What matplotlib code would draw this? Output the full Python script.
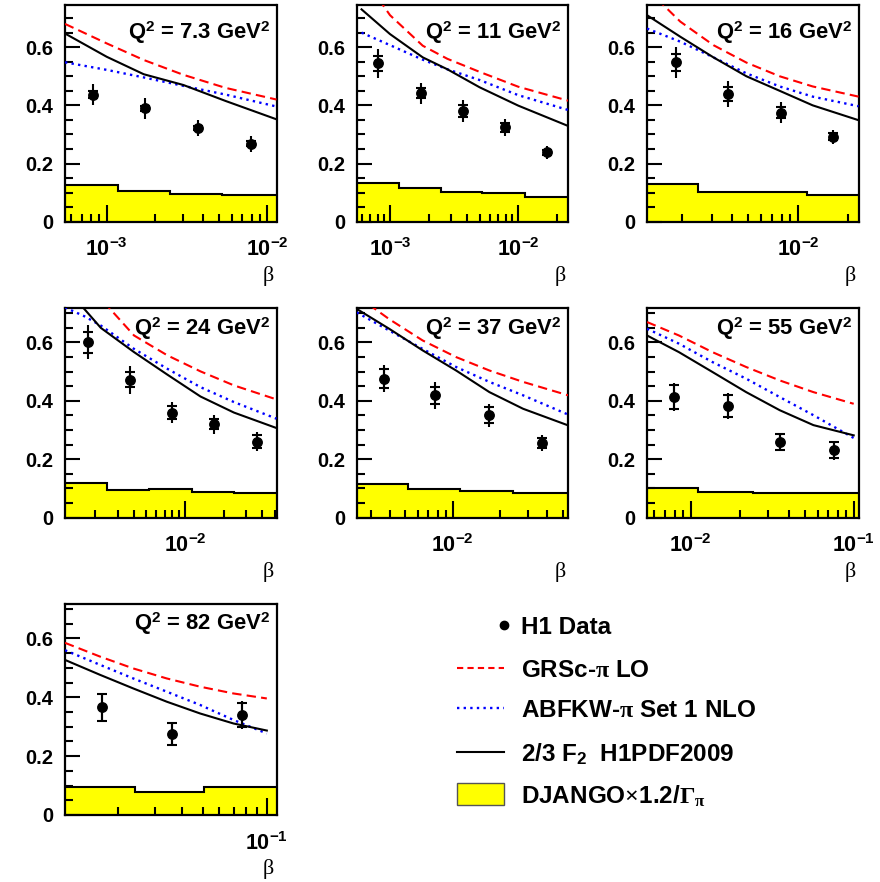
import matplotlib
matplotlib.use('Agg')
import matplotlib.pyplot as plt
import numpy as np
from matplotlib.ticker import LogLocator, MultipleLocator, FuncFormatter, NullFormatter
from matplotlib.patches import Rectangle

plt.rcParams['font.family'] = ['Liberation Sans', 'DejaVu Sans']
plt.rcParams['font.weight'] = 'bold'
plt.rcParams['mathtext.fontset'] = 'custom'
plt.rcParams['mathtext.rm'] = 'Liberation Serif'
plt.rcParams['mathtext.it'] = 'Liberation Serif:italic'
plt.rcParams['mathtext.bf'] = 'Liberation Sans:bold'

# panel labels and axis ranges
q2_labels = ['7.3', '11', '16', '24', '37', '55', '82']
beta_lo = [5.5e-4, 5.5e-4, 1.22e-3, 1.17e-3, 2.45e-3, 5.4e-3, 1.135e-2]
beta_hi = [1.14e-2, 2.45e-2, 2.33e-2, 5.14e-2, 5.42e-2, 0.107, 0.111]
y_top = [0.745, 0.745, 0.745, 0.717, 0.717, 0.717, 0.717]

# H1 data
data_beta = [[8.2e-4, 1.73e-3, 3.7e-3, 7.9e-3],
             [8.1e-4, 1.75e-3, 3.68e-3, 7.87e-3, 1.68e-2],
             [1.82e-3, 3.79e-3, 7.87e-3, 1.64e-2],
             [1.77e-3, 3.75e-3, 7.98e-3, 1.68e-2, 3.6e-2],
             [3.63e-3, 7.75e-3, 1.7e-2, 3.71e-2],
             [7.96e-3, 1.69e-2, 3.55e-2, 7.59e-2],
             [1.7e-2, 3.59e-2, 7.69e-2]]
data_val = [[0.436, 0.39, 0.322, 0.268],
            [0.544, 0.441, 0.381, 0.324, 0.238],
            [0.548, 0.439, 0.375, 0.292],
            [0.601, 0.473, 0.36, 0.32, 0.26],
            [0.476, 0.419, 0.351, 0.256],
            [0.413, 0.382, 0.26, 0.231],
            [0.366, 0.275, 0.34]]
data_tot = [[0.036, 0.036, 0.029, 0.027],
            [0.05, 0.037, 0.037, 0.028, 0.021],
            [0.053, 0.043, 0.036, 0.024],
            [0.059, 0.048, 0.037, 0.033, 0.033],
            [0.047, 0.047, 0.04, 0.027],
            [0.048, 0.045, 0.031, 0.032],
            [0.05, 0.038, 0.047]]
data_stat = [[0.012, 0.008, 0.008, 0.008],
             [0.025, 0.017, 0.02, 0.015, 0.008],
             [0.03, 0.025, 0.02, 0.012],
             [0.036, 0.027, 0.021, 0.017, 0.023],
             [0.033, 0.028, 0.027, 0.017],
             [0.04, 0.038, 0.027, 0.028],
             [0.046, 0.036, 0.042]]

# model curves
curve_beta = [[5.5e-4, 1.0e-3, 1.7e-3, 3.0e-3, 5.5e-3, 1.14e-2],
              [6.0e-4, 1.0e-3, 1.8e-3, 2.8e-3, 5.0e-3, 1.0e-2, 2.45e-2],
              [1.22e-3, 1.94e-3, 3.08e-3, 4.88e-3, 7.76e-3, 1.23e-2, 2.33e-2],
              [1.17e-3, 1.65e-3, 2.22e-3, 4.02e-3, 7.29e-3, 1.32e-2, 2.4e-2, 5.14e-2],
              [2.45e-3, 3.94e-3, 6.43e-3, 1.05e-2, 1.71e-2, 2.8e-2, 5.42e-2],
              [5.4e-3, 8.47e-3, 1.36e-2, 2.19e-2, 3.52e-2, 5.66e-2, 0.1],
              [1.135e-2, 1.66e-2, 2.37e-2, 3.4e-2, 4.87e-2, 6.98e-2, 0.1]]
grs_lo = [[0.68, 0.613, 0.556, 0.505, 0.46, 0.42],
          [0.85, 0.71, 0.605, 0.56, 0.515, 0.464, 0.416],
          [0.80, 0.688, 0.607, 0.547, 0.50, 0.465, 0.43],
          [0.95, 0.85, 0.75, 0.624, 0.556, 0.501, 0.453, 0.405],
          [0.76, 0.68, 0.607, 0.55, 0.504, 0.465, 0.419],
          [0.67, 0.624, 0.567, 0.516, 0.47, 0.43, 0.39],
          [0.585, 0.538, 0.498, 0.464, 0.436, 0.413, 0.396]]
abfkw_nlo = [[0.548, 0.522, 0.496, 0.467, 0.437, 0.396],
             [0.65, 0.607, 0.557, 0.524, 0.487, 0.435, 0.384],
             [0.664, 0.619, 0.565, 0.51, 0.465, 0.43, 0.397],
             [0.72, 0.69, 0.658, 0.578, 0.51, 0.447, 0.396, 0.339],
             [0.703, 0.641, 0.578, 0.516, 0.465, 0.419, 0.353],
             [0.647, 0.596, 0.533, 0.476, 0.413, 0.351, 0.273],
             [0.56, 0.51, 0.464, 0.419, 0.374, 0.323, 0.277]]
f2_h1pdf = [[0.647, 0.567, 0.507, 0.47, 0.415, 0.352],
            [0.73, 0.645, 0.565, 0.524, 0.462, 0.399, 0.329],
            [0.71, 0.636, 0.565, 0.50, 0.45, 0.40, 0.349],
            [0.78, 0.715, 0.65, 0.567, 0.49, 0.415, 0.36, 0.307],
            [0.715, 0.647, 0.573, 0.504, 0.43, 0.373, 0.316],
            [0.624, 0.567, 0.499, 0.43, 0.368, 0.317, 0.282],
            [0.527, 0.476, 0.43, 0.385, 0.345, 0.311, 0.287]]

# DJANGO histogram
django_edges = [[5.5e-4, 1.17e-3, 2.49e-3, 5.24e-3, 1.14e-2],
                [5.5e-4, 1.17e-3, 2.49e-3, 5.24e-3, 1.13e-2, 2.45e-2],
                [1.22e-3, 2.49e-3, 5.24e-3, 1.13e-2, 2.33e-2],
                [1.17e-3, 2.49e-3, 5.3e-3, 1.13e-2, 2.4e-2, 5.14e-2],
                [2.45e-3, 5.2e-3, 1.11e-2, 2.4e-2, 5.42e-2],
                [5.4e-3, 1.11e-2, 2.4e-2, 0.107],
                [1.135e-2, 2.41e-2, 5.08e-2, 0.111]]
django_vals = [[0.126, 0.107, 0.095, 0.092],
               [0.132, 0.117, 0.101, 0.097, 0.086],
               [0.129, 0.103, 0.101, 0.092],
               [0.12, 0.095, 0.097, 0.089, 0.084],
               [0.114, 0.098, 0.092, 0.083],
               [0.1, 0.089, 0.083],
               [0.094, 0.077, 0.094]]

YELLOW = '#ffff00'
W, H = 880, 882
fig = plt.figure(figsize=(W / 100, H / 100), dpi=100)

# legend overlay in pixel coordinates
lax = fig.add_axes([0, 0, 1, 1])
lax.set_xlim(0, W)
lax.set_ylim(H, 0)
lax.axis('off')
lax.patch.set_alpha(0)

col_left = [65, 356.7, 647]
row_bottom = [221.7, 517.7, 815]
row_height = [216.7, 209.4, 211]
ax_w = 211.5

for i in range(7):
    r, c = divmod(i, 3)
    ax = fig.add_axes([col_left[c] / W, 1 - row_bottom[r] / H, ax_w / W, row_height[r] / H])

    ax.stairs(django_vals[i], django_edges[i], fill=True, color=YELLOW, lw=0, zorder=1)
    ax.stairs(django_vals[i], django_edges[i], baseline=None, color='k', lw=1.5, zorder=2)

    ax.plot(curve_beta[i], grs_lo[i], color='#ff0000', lw=1.5, dashes=(4.5, 2.5), zorder=3)
    ax.plot(curve_beta[i], abfkw_nlo[i], color='#0000ff', lw=1.7, dashes=(1, 1.8), zorder=3)
    ax.plot(curve_beta[i], f2_h1pdf[i], color='k', lw=1.5, zorder=3)

    ax.errorbar(data_beta[i], data_val[i], yerr=data_tot[i], fmt='none', ecolor='k',
                elinewidth=1.5, capsize=0, zorder=4)
    ax.errorbar(data_beta[i], data_val[i], yerr=data_stat[i], fmt='o', color='k', ms=6.8,
                elinewidth=1.5, capsize=3.6, capthick=1.5, zorder=5)

    ax.set_xscale('log')
    ax.set_xlim(beta_lo[i], beta_hi[i])
    ax.set_ylim(0, y_top[i])
    ax.xaxis.set_major_locator(LogLocator(base=10, numticks=10))
    ax.xaxis.set_minor_locator(LogLocator(base=10, subs=np.arange(2, 10), numticks=30))
    ax.xaxis.set_major_formatter(FuncFormatter(lambda v, p: r'$\mathbf{10^{%d}}$' % round(np.log10(v))))
    ax.xaxis.set_minor_formatter(NullFormatter())
    ax.set_yticks([0, 0.2, 0.4, 0.6], ['0', '0.2', '0.4', '0.6'])
    ax.yaxis.set_minor_locator(MultipleLocator(0.05))
    ax.tick_params(axis='x', which='major', direction='in', length=12, width=1.5, pad=12,
                   labelsize=15.5, top=False)
    ax.tick_params(axis='x', which='minor', direction='in', length=6, width=1.5, top=False)
    ax.tick_params(axis='y', which='major', direction='in', length=11, width=1.5, pad=8.5,
                   labelsize=14.5, right=False)
    ax.tick_params(axis='y', which='minor', direction='in', length=5.5, width=1.5, right=False)
    for sp in ax.spines.values():
        sp.set_linewidth(1.6)

    ax.text(0.968, 0.627, r'Q$^{\mathbf{2}}$ = %s GeV$^{\mathbf{2}}$' % q2_labels[i],
            transform=ax.get_yaxis_transform(), ha='right', va='baseline', fontsize=15.8)
    ax.annotate('β', xy=(1, 0), xycoords='axes fraction', xytext=(-6, -39),
                textcoords='offset points', ha='center', va='center', fontsize=16,
                fontfamily='Liberation Serif', fontweight='normal')

# legend
leg_y = [625, 668, 708, 752, 794]
leg_x0, leg_x1, leg_tx = 457, 504, 521
lax.plot([leg_x1], [leg_y[0]], 'o', color='k', ms=6)
lax.plot([leg_x0, leg_x1], [leg_y[1]] * 2, color='#ff0000', lw=1.5, dashes=(3, 2))
lax.plot([leg_x0, leg_x1], [leg_y[2]] * 2, color='#0000ff', lw=1.7, dashes=(1, 1.8))
lax.plot([leg_x0, leg_x1], [leg_y[3]] * 2, color='k', lw=1.5)
lax.add_patch(Rectangle((leg_x0, leg_y[4] - 11), leg_x1 - leg_x0, 22, facecolor=YELLOW,
                        edgecolor='#555555', lw=1))
labels = ['H1 Data', r'GRSc-$\mathrm{\pi}$ LO', r'ABFKW-$\mathrm{\pi}$ Set 1 NLO',
          r'2/3 F$_{\mathbf{2}}$  H1PDF2009', r'DJANGO$\mathrm{\times}$1.2/$\mathrm{\Gamma_{\pi}}$']
for y, lab in zip(leg_y, labels):
    lax.text(leg_tx, y, lab, fontsize=17.5, va='center_baseline', ha='left')

fig.savefig('out.png', dpi=100)
